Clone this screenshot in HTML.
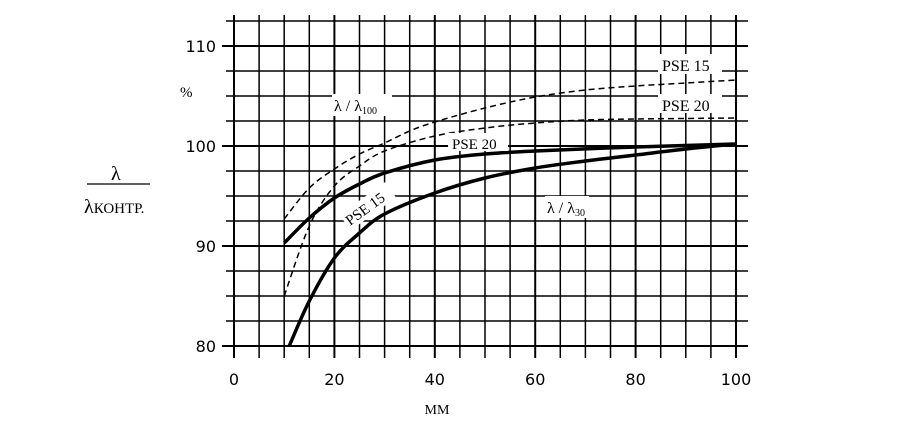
<!DOCTYPE html>
<html><head><meta charset="utf-8"><style>
body{margin:0;background:#fff;}
svg text{font-family:"Liberation Serif","DejaVu Serif",serif;fill:#000;}
svg text.tk{font-family:"DejaVu Sans","Liberation Sans",sans-serif;}
</style></head><body>
<svg width="904" height="433" viewBox="0 0 904 433">
<g id="grid"></g>
<g id="ticks"></g>
<g id="series"></g>
<rect x="448" y="133" width="60" height="18" fill="#fff"/>
<text x="452" y="149" font-size="15">PSE 20</text>
<rect x="658" y="54" width="64" height="20" fill="#fff"/>
<text x="662" y="71" font-size="16">PSE 15</text>
<rect x="658" y="94" width="64" height="19" fill="#fff"/>
<text x="662" y="111" font-size="16">PSE 20</text>
<rect x="332" y="94" width="60" height="22" fill="#fff"/>
<text x="334" y="111" font-size="16">λ / λ<tspan font-size="10" dy="3">100</tspan></text>
<rect x="545" y="196" width="44" height="22" fill="#fff"/>
<text x="547" y="213" font-size="16">λ / λ<tspan font-size="10" dy="3">30</tspan></text>
<g transform="translate(350,226) rotate(-36)"><rect x="-2" y="-15" width="56" height="19" fill="#fff"/><text x="0" y="0" font-size="15">PSE 15</text></g>
<text x="180" y="97" font-size="15">%</text>
<text x="111" y="180" font-size="20">λ</text>
<line x1="87" y1="184" x2="150" y2="184" stroke="#000" stroke-width="1.3"/>
<text x="84" y="213" font-size="20">λ<tspan font-size="15">КОНТР.</tspan></text>
<text x="437" y="414" font-size="14" text-anchor="middle">MM</text>
</svg>
<script>
const xTicks=[0,20,40,60,80,100];
const yTicks=[80,90,100,110];
const xs1=[10,15,20,25,30,40,50,60,80,100];
const pse20Solid=[90.3,92.8,94.8,96.2,97.3,98.6,99.2,99.5,99.9,100.2];
const xs2=[11,15,20,25,30,40,50,60,70,80,90,100];
const pse15Solid=[80,84.5,88.8,91.3,93.2,95.3,96.8,97.8,98.5,99.1,99.7,100.2];
const xs3=[10,15,20,25,30,35,40,50,60,70,80,90,100];
const pse15Dashed=[92.7,95.8,97.7,99.2,100.3,101.5,102.4,103.8,104.9,105.6,106,106.3,106.6];
const xs4=[10,15,20,25,30,40,50,60,70,80,100];
const pse20Dashed=[85,92,96,98,99.5,101,101.8,102.3,102.6,102.7,102.8];
const NS="http://www.w3.org/2000/svg";
const X=v=>234+v*5.02, Y=v=>346-(v-80)*10;
function mk(t,a,p){const e=document.createElementNS(NS,t);for(const k in a)e.setAttribute(k,a[k]);p.appendChild(e);return e;}
const g=document.getElementById('grid');
for(let m=0;m<=100;m+=5){
 const l=mk('line',{x1:X(m),x2:X(m),y1:15,y2:358,stroke:'#000','stroke-width':m%20==0?2:1.5},g);
 
 
}
for(let v=80;v<=112.5;v+=2.5){
 const l=mk('line',{x1:v%10==0?222:226,x2:748,y1:Y(v),y2:Y(v),stroke:'#000','stroke-width':v%10==0?2:1.5},g);
 
 
}
const tk=document.getElementById('ticks');
xTicks.forEach(v=>{const t=mk('text',{x:X(v),y:385,'font-size':16,'text-anchor':'middle','class':'tk'},tk);t.textContent=v;
 
 });
yTicks.forEach(v=>{const t=mk('text',{x:216,y:Y(v)+6,'font-size':16,'text-anchor':'end','class':'tk'},tk);t.textContent=v;
 
 });
const s=document.getElementById('series');
function line(xs,ys,w,dash,name){
 const P=xs.map((x,i)=>[X(x),Y(ys[i])]);
 let d='M'+P[0][0]+','+P[0][1];
 for(let i=0;i<P.length-1;i++){
  const p0=P[Math.max(0,i-1)],p1=P[i],p2=P[i+1],p3=P[Math.min(P.length-1,i+2)];
  const c1=[p1[0]+(p2[0]-p0[0])/6,p1[1]+(p2[1]-p0[1])/6],c2=[p2[0]-(p3[0]-p1[0])/6,p2[1]-(p3[1]-p1[1])/6];
  d+=' C'+c1+' '+c2+' '+p2;
 }
 const p=mk('path',{d:d,fill:'none',stroke:'#000','stroke-width':w,'stroke-dasharray':dash,'stroke-linejoin':'round'},s);
 
 
}
line(xs1,pse20Solid,3.5,'none','line-pse20-lambda30');
line(xs2,pse15Solid,3.5,'none','line-pse15-lambda30');
line(xs3,pse15Dashed,1.5,'6 4','line-pse15-lambda100');
line(xs4,pse20Dashed,1.5,'6 4','line-pse20-lambda100');
</script>
</body></html>
